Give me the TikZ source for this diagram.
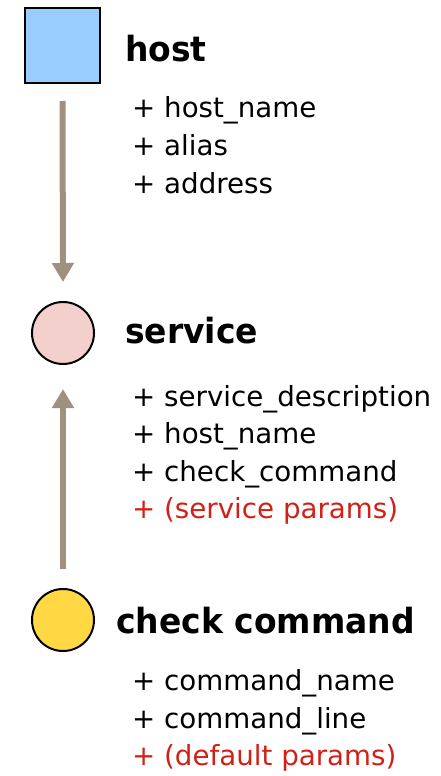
\documentclass[tikz,border=0pt]{standalone}
\usepackage{fontspec}
\setmainfont{DejaVu Sans}[BoldFeatures={FakeStretch=0.95}]
\usetikzlibrary{arrows.meta}
\definecolor{hostblue}{RGB}{153,204,255}
\definecolor{svcpink}{RGB}{244,208,204}
\definecolor{cmdyellow}{RGB}{255,216,68}
\definecolor{arrowbrown}{RGB}{160,144,128}
\definecolor{paramred}{RGB}{210,32,22}
\tikzset{
  entity/.style={draw=black, line width=2pt, inner sep=0pt},
  title/.style={anchor=base west, inner sep=0pt, font=\fontsize{34.7}{40}\selectfont\bfseries},
  attr/.style={anchor=base west, inner sep=0pt, font=\fontsize{27.7}{33}\selectfont},
  param/.style={attr, text=paramred},
  link/.style={draw=arrowbrown, line width=6pt, -{Triangle[width=21pt,length=19pt]}}
}
\begin{document}
\begin{tikzpicture}[x=1pt,y=-1pt]
\useasboundingbox (0,0) rectangle (440,776);
% host
\node[entity, fill=hostblue, minimum size=75pt] (host) at (62.5,45.5) {};
\node[title] (hostT) at (125,62) {host};
\node[attr] (h1) at (132,117) {+ host\_name};
\node[attr] (h2) at (132,155) {+ alias};
\node[attr] (h3) at (132,193) {+ address};
% service
\node[entity, circle, fill=svcpink, minimum size=62pt] (svc) at (63,333) {};
\node[title] (svcT) at (125,343) {service};
\node[attr] (s1) at (132,406) {+ service\_description};
\node[attr] (s2) at (132,443.5) {+ host\_name};
\node[attr] (s3) at (132,481) {+ check\_command};
\node[param] (s4) at (132,518) {+ (service params)};
% check command
\node[entity, circle, fill=cmdyellow, minimum size=62pt] (cmd) at (63,620) {};
\node[title] (cmdT) at (116,633) {check command};
\node[attr] (c1) at (132,690) {+ command\_name};
\node[attr] (c2) at (132,728) {+ command\_line};
\node[param] (c3) at (132,765) {+ (default params)};
% connectors
\draw[link, shorten <=17pt, shorten >=19pt] (host.south) -- (svc.north);
\draw[link, shorten <=19pt, shorten >=24pt] (cmd.north) -- (svc.south);
\end{tikzpicture}
\end{document}
